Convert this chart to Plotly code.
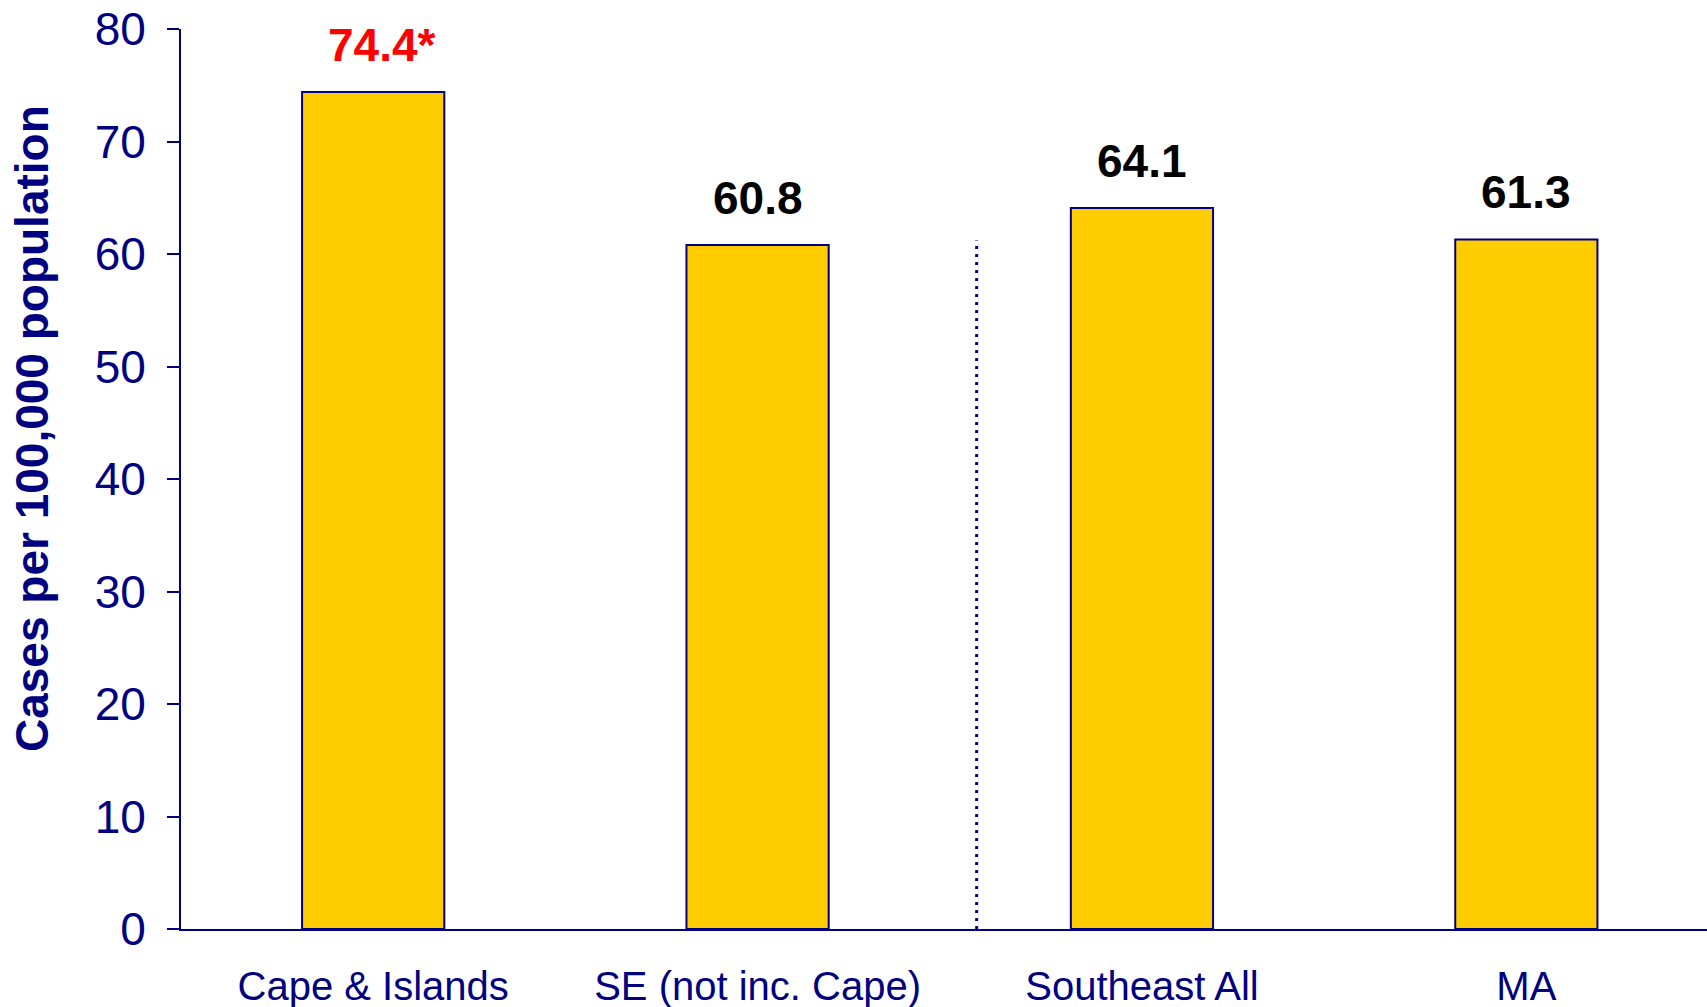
import plotly.graph_objects as go

categories = ["Cape & Islands", "SE (not inc. Cape)", "Southeast All", "MA"]
rates = [74.4, 60.8, 64.1, 61.3]
labels = ["74.4*", "60.8", "64.1", "61.3"]
label_colors = ["#FF0000", "#000000", "#000000", "#000000"]
y_ticks = [0, 10, 20, 30, 40, 50, 60, 70, 80]

navy = "#000080"
font_family = "Liberation Sans, Arial, sans-serif"

fig = go.Figure()
fig.add_trace(go.Bar(
    x=categories,
    y=rates,
    marker=dict(color="#FFCC00", line=dict(color=navy, width=2)),
    width=0.37,
    hoverinfo="skip",
))

# value labels above the bars (asterisk hangs off the right of the number)
for cat, val, txt, col in zip(categories, rates, labels, label_colors):
    fig.add_annotation(
        x=cat, y=val, text="<b>%s</b>" % txt, showarrow=False,
        yanchor="bottom", yshift=19, xshift=9 if txt.endswith("*") else 0,
        font=dict(family=font_family, size=46, color=col),
    )

# dotted divider between the Cape/SE pair and the totals
fig.add_shape(type="line", xref="x", yref="y", x0=1.57, x1=1.57, y0=0, y1=61.2,
              line=dict(color=navy, width=3, dash="3px,5px"))

fig.add_annotation(
    xref="paper", yref="paper", x=-0.098, y=0.556,
    text="<b>Cases per 100,000 population</b>", textangle=-90, showarrow=False,
    xanchor="center", yanchor="middle",
    font=dict(family=font_family, size=46, color=navy),
)

fig.update_xaxes(
    range=[-0.5, 3.47], showline=True, linecolor=navy, linewidth=2,
    ticks="", showgrid=False, zeroline=False, ticklabelstandoff=21,
    tickfont=dict(family=font_family, size=40, color=navy),
)
fig.update_yaxes(
    range=[0, 80], tickvals=y_ticks, showline=True, linecolor=navy, linewidth=2,
    ticks="outside", ticklen=12, tickwidth=2, tickcolor=navy,
    showgrid=False, zeroline=False, ticklabelstandoff=12,
    ticklabeloverflow="allow",
    tickfont=dict(family=font_family, size=46, color=navy),
)

fig.update_layout(
    width=1707, height=1007,
    margin=dict(l=181, r=0, t=29, b=78, autoexpand=False),
    plot_bgcolor="white", paper_bgcolor="white",
    showlegend=False, bargap=0.63,
)

# drop the default page margin so the figure fills the window exactly
fig.write_html("out.html", config={"displayModeBar": False},
               post_script="document.body.style.margin='0';")
